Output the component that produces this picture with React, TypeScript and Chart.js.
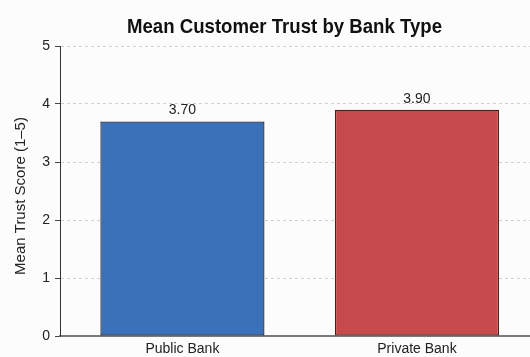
import React, { useEffect, useRef } from "react";
import { Chart, registerables } from "chart.js";

Chart.register(...registerables);

const categories = ["Public Bank", "Private Bank"];
const meanTrust = [3.7, 3.9];
const valueLabels = ["3.70", "3.90"];
const barColors = ["#3a71b8", "#c64a4b"];
const barBorders = ["#16233f", "#4a1f1f"];
const chartTitle = "Mean Customer Trust by Bank Type";
const yTitle = "Mean Trust Score (1–5)";
const xMin = -0.522;
const xMax = 1.482;

const FONT = '"Liberation Sans", Arial, sans-serif';

const overlayPlugin = {
  id: "overlay",
  beforeDraw(chart: any) {
    const ctx = chart.ctx;
    ctx.save();
    ctx.fillStyle = "#fcfcfc";
    ctx.fillRect(0, 0, chart.width, chart.height);
    ctx.restore();
  },
  afterDatasetsDraw(chart: any) {
    const ctx = chart.ctx;
    const meta = chart.getDatasetMeta(0);
    ctx.save();
    ctx.fillStyle = "#222";
    ctx.font = "14px " + FONT;
    ctx.textAlign = "center";
    ctx.textBaseline = "middle";
    meta.data.forEach((bar: any, i: number) => {
      ctx.fillText(valueLabels[i], bar.x, bar.y - 11);
    });
    ctx.restore();
  },
  afterDraw(chart: any) {
    const ctx = chart.ctx;
    ctx.save();
    ctx.fillStyle = "#111";
    ctx.font = 'bold 21px "Liberation Sans Narrow", "Liberation Sans", Arial, sans-serif';
    ctx.textAlign = "center";
    ctx.textBaseline = "alphabetic";
    const w = ctx.measureText(chartTitle).width;
    const target = 315;
    ctx.translate(284.5, 33);
    if (w > target + 5) ctx.scale(target / w, 1);
    ctx.fillText(chartTitle, 0, 0);
    ctx.restore();

    ctx.save();
    ctx.translate(21, 196);
    ctx.rotate(-Math.PI / 2);
    ctx.fillStyle = "#222";
    ctx.font = "15px " + FONT;
    ctx.textAlign = "center";
    ctx.textBaseline = "middle";
    ctx.fillText(yTitle, 0, 0);
    ctx.restore();
  },
};

export default function App() {
  const ref = useRef<HTMLCanvasElement | null>(null);
  useEffect(() => {
    if (!ref.current) return;
    const chart = new Chart(ref.current, {
      type: "bar",
      data: {
        datasets: [
          {
            data: categories.map((c, i) => ({ x: i, y: meanTrust[i] })),
            backgroundColor: barColors,
            borderColor: barBorders,
            borderWidth: 1.3,
            borderSkipped: false,
            barPercentage: 0.7,
            categoryPercentage: 1,
          },
        ],
      },
      plugins: [overlayPlugin],
      options: {
        responsive: false,
        animation: false,
        layout: { padding: { top: 46, left: 0, right: 0, bottom: 0 } },
        plugins: {
          legend: { display: false },
          title: { display: false },
          tooltip: { enabled: false },
        },
        scales: {
          x: {
            type: "linear",
            offset: false,
            min: xMin,
            max: xMax,
            afterDataLimits: (scale: any) => {
              scale.min = xMin;
              scale.max = xMax;
            },
            afterBuildTicks: (scale: any) => {
              scale.ticks = categories.map((_, i) => ({ value: i }));
              scale.min = xMin;
              scale.max = xMax;
            },
            afterFit: (scale: any) => {
              scale.height = 21;
            },
            grid: { display: false, drawTicks: false },
            border: { display: true, color: "#7a7a7a", width: 2 },
            ticks: {
              padding: 5,
              color: "#222",
              font: { family: FONT, size: 14 },
              callback: (v: any) => categories[v] ?? "",
              maxRotation: 0,
              autoSkip: false,
            },
          },
          y: {
            min: 0,
            max: 5,
            afterFit: (scale: any) => {
              scale.width = 60;
            },
            grid: {
              color: "#d0d0d0",
              lineWidth: 1,
              tickLength: 5,
              tickColor: "#444",
              tickBorderDash: [],
            } as any,
            border: { display: true, color: "#333", width: 1, dash: [3, 3] } as any,
            ticks: {
              stepSize: 1,
              padding: 5,
              color: "#222",
              font: { family: FONT, size: 14 },
            },
          },
        },
      } as any,
    });
    return () => chart.destroy();
  }, []);
  return (
    <div style={{ position: "fixed", left: 0, top: 0, width: 530, height: 357 }}>
      <canvas ref={ref} width={530} height={357} style={{ display: "block" }} />
    </div>
  );
}
